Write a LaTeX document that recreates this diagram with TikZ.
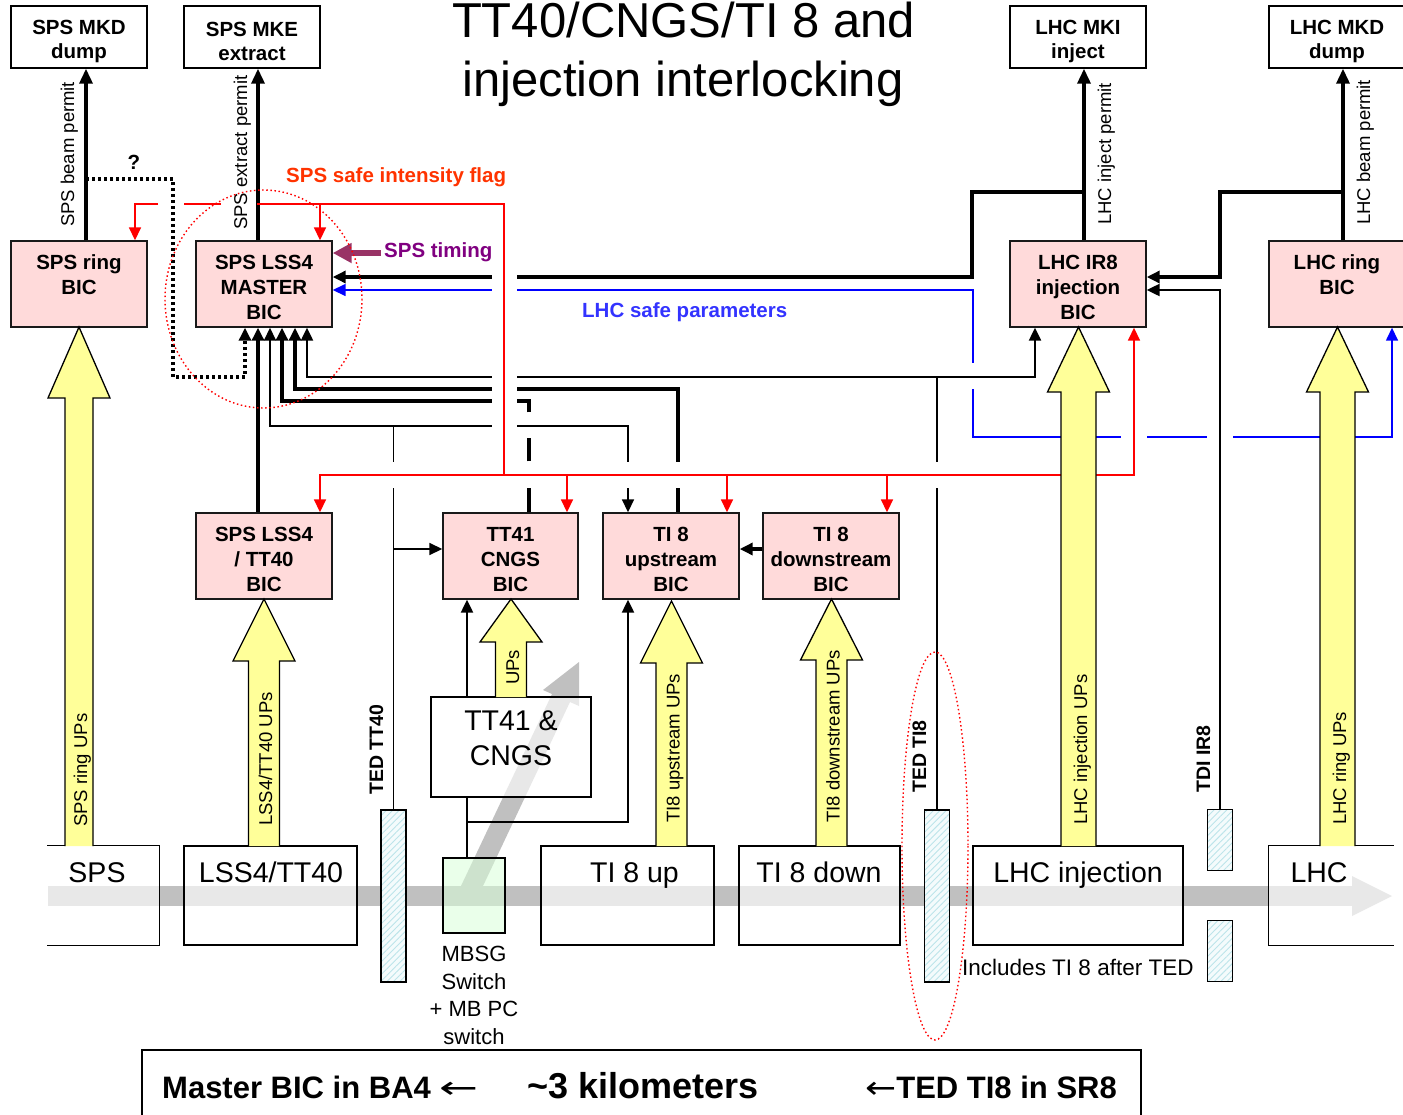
\documentclass[tikz,border=0pt]{standalone}
\usepackage{fontspec}
\usepackage{graphicx}
\setmainfont{Liberation Sans}
\newfontfamily\arrowfont{DejaVu Sans}
\usetikzlibrary{arrows.meta,patterns.meta}
\definecolor{bicpink}{HTML}{FFDADA}
\definecolor{upyellow}{HTML}{FFFF99}
\definecolor{flagline}{HTML}{FF0000}
\definecolor{flagtxt}{HTML}{FF3300}
\definecolor{timingc}{HTML}{993366}
\definecolor{timingtxt}{HTML}{800080}
\definecolor{safeline}{HTML}{0000FF}
\definecolor{safetxt}{HTML}{3333FF}
\definecolor{beamgray}{HTML}{C0C0C0}
\definecolor{mbsggreen}{HTML}{D8FFD8}
\definecolor{hatchc}{HTML}{BCE4EA}
\definecolor{tedbg}{HTML}{F4FBFC}
\tikzset{
  tipb/.tip={Triangle[width=12pt,length=13pt]},
  tipp/.tip={Triangle[width=13pt,length=15pt]},
  boxfont/.style={font=\fontsize{20.5}{24.6}\selectfont\bfseries},
  topbox/.style={draw=black, line width=1.4pt, fill=white, minimum width=136pt, minimum height=62pt, inner sep=0pt, align=center, boxfont},
  bicbox/.style={draw=black!90, line width=1.4pt, fill=bicpink, minimum width=136pt, minimum height=86pt, inner sep=0pt, align=center, boxfont},
  beambox/.style={draw=black, line width=1.4pt, fill=white, fill opacity=0.64, inner sep=0pt},
  beamtxt/.style={font=\fontsize{28.5}{34.2}\selectfont, inner sep=0pt, anchor=base},
  tedrect/.style={draw=black, line width=1.4pt, preaction={fill=tedbg}, pattern={Lines[angle=45,distance=4.5pt,line width=0.9pt]}, pattern color=hatchc, minimum width=25pt, inner sep=0pt},
  uparr/.style={draw=black, line width=1.3pt, fill=upyellow, line join=miter},
  uplbl/.style={font=\fontsize{18.5}{22}\selectfont, rotate=90, anchor=base west, inner sep=0pt},
  tedlbl/.style={font=\fontsize{19.5}{23}\selectfont\bfseries, rotate=90, anchor=base west, inner sep=0pt},
  boldlbl/.style={font=\fontsize{20.5}{24}\selectfont\bfseries, anchor=base west, inner sep=0pt},
  thk/.style={draw=black, line width=3.4pt},
  med/.style={draw=black, line width=2.3pt},
  thn/.style={draw=black, line width=1.7pt},
  flag/.style={draw=flagline, line width=1.7pt},
  safe/.style={draw=safeline, line width=1.5pt},
  redring/.style={draw=red, line width=1.4pt, dash pattern=on 1.5pt off 2.6pt},
}
\newcommand\uparrowpoly[6]{%
  \filldraw[uparr] ({#1-#5},#4) -- ({#1-#5},#3) -- ({#1-#6},#3) -- (#1,#2) -- ({#1+#6},#3) -- ({#1+#5},#3) -- ({#1+#5},#4);}
\newcommand\bicstrut{\rule{0pt}{21pt}}
\newcommand\topstrut{\rule{0pt}{23pt}}
\begin{document}
\begin{tikzpicture}[x=1pt,y=-1pt]
\useasboundingbox (0,0) rectangle (1403,1114);

% beam line
\fill[beamgray] (48,886) rectangle (1352,906);
\fill[beamgray] (1352,876) -- (1392,896) -- (1352,916) -- cycle;
\fill[beamgray] (461,886) -- (552,694) -- (543,690) -- (579,662) -- (579,706) -- (570,702) -- (483,886) -- cycle;

% bottom row boxes
\node[beambox, draw=none, minimum width=111pt, minimum height=99pt] (sps) at (103.5,895.5) {};
\draw[line width=1.4pt] (sps.north west) -- (sps.north east) -- (sps.south east) -- (sps.south west);
\node[beambox, minimum width=173pt, minimum height=99pt] (lss4) at (270.5,895.5) {};
\node[beambox, minimum width=173pt, minimum height=99pt] (tiup) at (627.5,895.5) {};
\node[beambox, minimum width=161pt, minimum height=99pt] (tidown) at (819.5,895.5) {};
\node[beambox, minimum width=210pt, minimum height=99pt] (lhcinj) at (1078,895.5) {};
\node[beambox, draw=none, minimum width=124pt, minimum height=99pt] (lhc) at (1331,895.5) {};
\draw[line width=1.4pt] (lhc.north east) -- (lhc.north west) -- (lhc.south west) -- (lhc.south east);
\node[beambox, minimum width=160pt, minimum height=100pt] (cngsbox) at (511,747) {};
\node[beambox, fill=mbsggreen, fill opacity=0.55, minimum width=62pt, minimum height=75pt] (mbsg) at (474,895.5) {};

% TED / TDI
\node[tedrect, minimum height=172pt] (tedtt40) at (393.5,896) {};
\node[tedrect, minimum height=172pt] (tedti8) at (937,896) {};
\node[tedrect, minimum height=61pt] (tdia) at (1220,840) {};
\node[tedrect, minimum height=61pt] (tdib) at (1220,951) {};

% top boxes and BICs
\node[topbox] (mkd) at (79,37) {\topstrut SPS MKD\\dump};
\node[topbox] (mke) at (252,37) {\topstrut SPS MKE\\extract};
\node[topbox] (mki) at (1078,37) {\topstrut LHC MKI\\inject};
\node[topbox] (lmkd) at (1337,37) {\topstrut LHC MKD\\dump};
\node[bicbox] (ringbic) at (79,284) {\bicstrut SPS ring\\BIC\\\phantom{BIC}};
\node[bicbox] (master) at (264,284) {\bicstrut SPS LSS4\\MASTER\\BIC};
\node[bicbox] (ir8) at (1078,284) {\bicstrut LHC IR8\\injection\\BIC};
\node[bicbox] (lring) at (1337,284) {\bicstrut LHC ring\\BIC\\\phantom{BIC}};
\node[bicbox] (tt40bic) at (264,556) {\bicstrut SPS LSS4\\/ TT40\\BIC};
\node[bicbox, minimum width=135pt] (cngsbic) at (510.5,556) {\bicstrut TT41\\CNGS\\BIC};
\node[bicbox] (upbic) at (671,556) {\bicstrut TI 8\\upstream\\BIC};
\node[bicbox] (downbic) at (831,556) {\bicstrut TI 8\\downstream\\BIC};

\foreach \cx in {86,135,245,258,270,282,295,307,320,467,529,567,628,678,727,887,1035,1084,1134,1343,1392} {\coordinate (x\cx) at (\cx,0);}
\coordinate (y253) at (0,253);
\coordinate (y277) at (0,277);
\coordinate (y290) at (0,290);
\coordinate (y549) at (0,549);

% permits
\draw[thk, -tipp] (ringbic.north -| x86) -- (mkd.south -| x86);
\draw[thk, -tipp] (master.north -| x258) -- (mke.south -| x258);
\draw[thk, -tipp] (ir8.north -| x1084) -- (mki.south -| x1084);
\draw[thk, -tipp] (lring.north -| x1343) -- (lmkd.south -| x1343);
\node[uplbl] (lblsbp) at (74,227) {SPS beam permit};
\node[uplbl] (lblsep) at (247,230) {SPS extract permit};
\node[uplbl] (lbllip) at (1111,225) {LHC inject permit};
\node[uplbl] (lbllbp) at (1370,225) {LHC beam permit};

% dotted ?
\coordinate (dj) at (86,179);
\draw[thk, dash pattern=on 3pt off 3pt, -tipb] (dj) -- (173,179) -- (173,377) -- (245,377) -- (master.south -| x245);
\node[font=\fontsize{20.5}{24}\selectfont\bfseries, inner sep=0pt] (qm) at (134,162) {?};

% LHC safe parameters (blue)
\draw[safe, tipb-tipb] (master.east |- y290) -- (973,290) -- (973,437) -- (1392,437) -- (lring.south -| x1392);
\fill[white] (966,363) rectangle (980,389);
\fill[white] (1121,430) rectangle (1147,444);
\fill[white] (1207,430) rectangle (1233,444);

% black interlock lines
\coordinate (ij) at (1084,192);
\draw[thk, -tipb] (ij) -- (972,192) -- (972,277) -- (master.east |- y277);
\coordinate (lj) at (1343,192);
\draw[thk, -tipb] (lj) -- (1220,192) -- (1220,277) -- (ir8.east |- y277);
\draw[med, -tipb] (tdia.north) -- (1220,290) -- (ir8.east |- y290);
\draw[med, tipb-tipb] (master.south -| x307) -- (307,377) -- (1035,377) -- (ir8.south -| x1035);
\draw[med] (tedti8.north) -- (937,377);
\draw[thk, -tipb] (upbic.north -| x678) -- (678,389) -- (295,389) -- (master.south -| x295);
\draw[thk, dash pattern=on 25pt off 26pt on 23pt off 26pt on 2000pt, -tipb] (cngsbic.north -| x529) -- (529,401) -- (282,401) -- (master.south -| x282);
\draw[thn, tipb-tipb] (upbic.north -| x628) -- (628,426) -- (270,426) -- (master.south -| x270);
\draw[thn] (tedtt40.north) -- (393.5,426);
\draw[thn, -tipb] (393.5,549) -- (cngsbic.west |- y549);
\draw[thk, -tipb] (downbic.west |- y549) -- (upbic.east |- y549);
\draw[med] (mbsg.north -| x467) -- (cngsbox.south -| x467);
\draw[med, -tipb] (cngsbox.north -| x467) -- (cngsbic.south -| x467);
\draw[med, -tipb] (467,822) -- (628,822) -- (upbic.south -| x628);
\draw[thk, -tipb] (tt40bic.north -| x258) -- (master.south -| x258);

% line jumps at the red lines
\fill[white] (492,268) rectangle (517,432);
\fill[white] (380,462) rectangle (945,488);

% SPS safe intensity flag (red)
\draw[flag, -tipb] (158,204) -- (135,204) -- (ringbic.north -| x135);
\draw[flag] (184,204) -- (221,204);
\draw[flag] (257,204) -- (504,204) -- (504,475);
\draw[flag, -tipb] (320,204) -- (master.north -| x320);
\draw[flag, -tipb] (504,475) -- (320,475) -- (tt40bic.north -| x320);
\draw[flag, -tipb] (504,475) -- (1134,475) -- (ir8.south -| x1134);
\draw[flag, -tipb] (567,475) -- (cngsbic.north -| x567);
\draw[flag, -tipb] (727,475) -- (upbic.north -| x727);
\draw[flag, -tipb] (887,475) -- (downbic.north -| x887);

% SPS timing
\draw[draw=timingc, line width=6pt, -{Triangle[width=19pt,length=19pt]}] (381,253) -- (master.east |- y253);

\node[boldlbl, text=flagtxt] (flaglbl) at (286,182) {SPS safe intensity flag};
\node[boldlbl, text=timingtxt] (timelbl) at (384,257) {SPS timing};
\node[boldlbl, text=safetxt] (safelbl) at (582,317) {LHC safe parameters};

% UP arrows
\uparrowpoly{79}{327}{398}{846}{14}{31}
\uparrowpoly{264}{599}{661}{846}{15.5}{31}
\uparrowpoly{511}{599}{642}{697}{15.5}{31}
\uparrowpoly{671.5}{601}{663}{846}{15.5}{31}
\uparrowpoly{831.5}{599}{660}{846}{15.5}{31}
\uparrowpoly{1078.5}{327}{392}{846}{17.5}{31}
\uparrowpoly{1337.5}{327}{392}{846}{17.5}{31}
\node[uplbl] (lblspsup) at (87,827) {SPS ring UPs};
\node[uplbl] (lbllssup) at (272,826) {LSS4/TT40 UPs};
\node[uplbl] (lblcngsup) at (519,685) {UPs};
\node[uplbl] (lblti8up) at (679.5,823) {TI8 upstream UPs};
\node[uplbl] (lblti8dn) at (839.5,823) {TI8 downstream UPs};
\node[uplbl] (lbllhcinj) at (1087,825) {LHC injection UPs};
\node[uplbl] (lbllhcring) at (1346,825) {LHC ring UPs};

\node[tedlbl] (lbltedtt40) at (383,795) {TED TT40};
\node[tedlbl] (lbltedti8) at (926,793) {TED TI8};
\node[tedlbl] (lbltdi) at (1210,793) {TDI IR8};

% bottom texts
\node[beamtxt] (spst) at (97,882) {SPS};
\node[beamtxt] (lss4t) at (271,882) {LSS4/TT40};
\node[beamtxt] (tiupt) at (634.5,882) {TI 8 up};
\node[beamtxt] (tidownt) at (819,882) {TI 8 down};
\node[beamtxt] (lhcinjt) at (1078,882) {LHC injection};
\node[beamtxt] (lhct) at (1319,882) {LHC};
\node[font=\fontsize{28.5}{34.2}\selectfont, align=center, anchor=north, inner sep=0pt] (cngst) at (511,711) {TT41 \&\\CNGS};
\node[font=\fontsize{22}{27.5}\selectfont, align=center, anchor=north, inner sep=0pt] (mbsgt) at (474,946) {MBSG\\Switch\\+ MB PC\\switch};
\node[font=\fontsize{22.5}{27}\selectfont, anchor=base west, inner sep=0pt] (inclt) at (962,975) {Includes TI 8 after TED};

% legend
\node[draw, line width=1.4pt, minimum width=999pt, minimum height=72pt, inner sep=0pt] (legend) at (641.5,1086) {};
\node[font=\fontsize{31}{36}\selectfont\bfseries, anchor=base west, inner sep=0pt] (leg1) at (162,1098) {Master BIC in BA4 {\arrowfont\mdseries\scalebox{1.5}[1]{←}}};
\node[font=\fontsize{36}{42}\selectfont\bfseries, anchor=base west, inner sep=0pt] (leg2) at (527,1098) {\textasciitilde3 kilometers};
\node[font=\fontsize{31}{36}\selectfont\bfseries, anchor=base east, inner sep=0pt] (leg3) at (1117,1098) {{\arrowfont\mdseries\scalebox{1.2}[1]{←}}TED TI8 in SR8};

% title
\node[font=\fontsize{49}{58}\selectfont, anchor=base, inner sep=0pt] (title1) at (683.5,37) {TT40/CNGS/TI 8 and};
\node[font=\fontsize{49}{58}\selectfont, anchor=base, inner sep=0pt] (title2) at (683,96) {injection interlocking};

% dotted red highlight rings
\draw[redring] (263.5,299) ellipse [x radius=98.5, y radius=109];
\draw[redring] (935,846) ellipse [x radius=33, y radius=194];
\end{tikzpicture}
\end{document}
